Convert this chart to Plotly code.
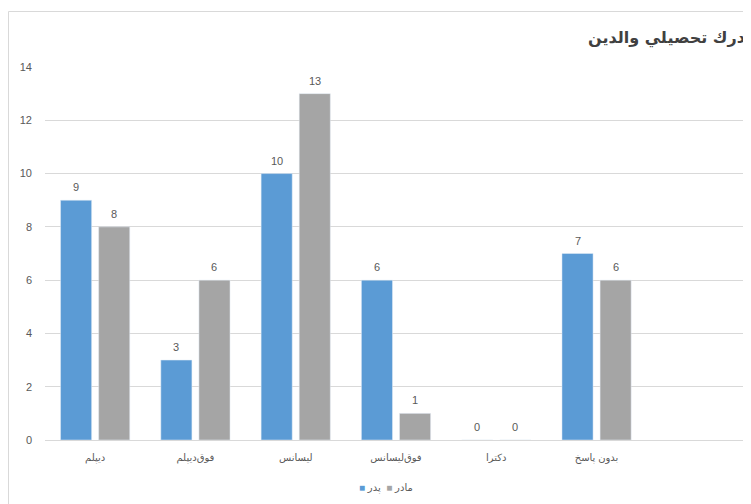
import plotly.graph_objects as go

categories = ["دیپلم", "فوق‌دیپلم", "لیسانس", "فوق‌لیسانس", "دکترا", "بدون پاسخ"]
father = [9, 3, 10, 6, 0, 7]
mother = [8, 6, 13, 1, 0, 6]
series_names = ["پدر", "مادر"]
title_text = "درك تحصيلي والدين"
y_ticks = [0, 2, 4, 6, 8, 10, 12, 14]

BLUE = "#5B9BD5"
GRAY = "#A5A5A5"
TXT = "#595959"
FONT = "Liberation Sans, Arial, DejaVu Sans"

# the page body has an 8px margin; work in page coordinates and offset
OFF = 8
W, H = 751 - OFF, 504 - OFF
ML, MR, MT, MB = 45 - OFF, 4, 67 - OFF, 504 - 440
pw = W - ML - MR
ph = H - MT - MB


def px(xp):  # page x -> paper x
    return (xp - OFF - ML) / pw


def py(yp):  # page y -> paper y
    return 1 - (yp - OFF - MT) / ph


fig = go.Figure()
fig.add_trace(go.Bar(x=categories, y=father, name=series_names[0], marker_color=BLUE))
fig.add_trace(go.Bar(x=categories, y=mother, name=series_names[1], marker_color=GRAY))

# data labels
for vals, shift in ((father, -19), (mother, 19)):
    for c, v in zip(categories, vals):
        fig.add_annotation(x=c, y=v, xref="x", yref="y", text=str(v), showarrow=False,
                           xshift=shift, yanchor="bottom", yshift=5,
                           font=dict(family=FONT, size=11, color=TXT))

# title
fig.add_annotation(xref="paper", yref="paper", x=px(747), y=py(38),
                   xanchor="right", yanchor="middle", text="<b>" + title_text + "</b>",
                   showarrow=False, font=dict(family="DejaVu Sans, Liberation Sans", size=16, color="#404040"))

# legend
legend_txt = ("<span style='color:%s'>■</span> %s\u200e  <span style='color:%s'>■</span> %s\u200e"
              % (BLUE, series_names[0], GRAY, series_names[1]))
fig.add_annotation(xref="paper", yref="paper", x=px(386), y=py(488),
                   xanchor="center", yanchor="middle", text=legend_txt, showarrow=False,
                   font=dict(family=FONT, size=10, color=TXT))

# chart border
fig.add_shape(type="line", xref="paper", yref="paper",
              x0=px(8.5), x1=px(8.5), y0=py(510), y1=py(11.5),
              line=dict(color="#D9D9D9", width=1))
fig.add_shape(type="line", xref="paper", yref="paper",
              x0=px(8.5), x1=px(760), y0=py(11.5), y1=py(11.5),
              line=dict(color="#D9D9D9", width=1))

fig.update_layout(
    width=W, height=H,
    margin=dict(l=ML, r=MR, t=MT, b=MB),
    paper_bgcolor="white", plot_bgcolor="white",
    barmode="group", bargap=0.24, bargroupgap=0.184,
    showlegend=False,
    font=dict(family=FONT, size=11, color=TXT),
    xaxis=dict(range=[-0.5, 6.5], showgrid=False, zeroline=False, showline=False,
               tickfont=dict(family=FONT, size=10, color=TXT), ticks="", ticklabelstandoff=10),
    yaxis=dict(range=[0, 14], tickvals=y_ticks, showgrid=True, gridcolor="#D9D9D9", gridwidth=1,
               zeroline=True, zerolinecolor="#D9D9D9", zerolinewidth=1, showline=False,
               tickfont=dict(family=FONT, size=11, color=TXT), ticks="", ticklabelstandoff=12),
)

fig.write_html("out.html")
